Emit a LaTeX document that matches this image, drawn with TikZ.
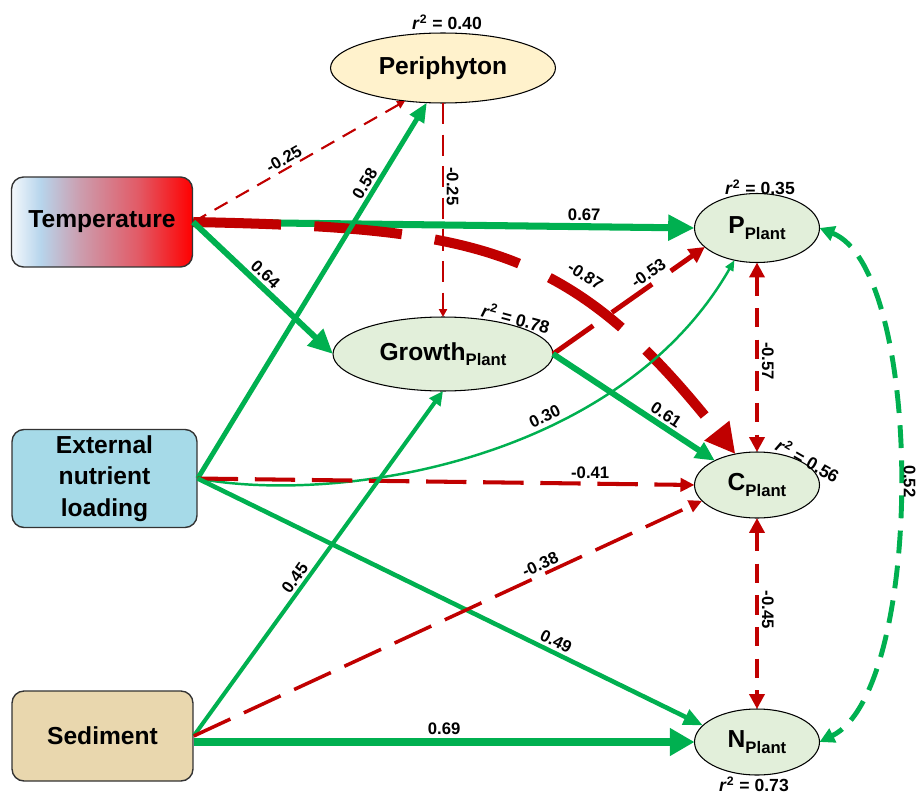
\documentclass[tikz,border=0pt]{standalone}
\usepackage{fontspec}
\setmainfont{Liberation Sans}
\usetikzlibrary{arrows.meta,shapes.geometric}
\definecolor{cgreen}{HTML}{00B050}
\definecolor{cred}{HTML}{C00000}
\definecolor{cperi}{HTML}{FFF2CC}
\definecolor{cplant}{HTML}{E2EFDA}
\definecolor{cnutr}{HTML}{A6DAE8}
\definecolor{csed}{HTML}{E9D7AE}
\definecolor{tcA}{HTML}{F4F8FC}
\definecolor{tcB}{HTML}{B7D5EC}
\definecolor{tcC}{HTML}{CC9DAE}
\definecolor{tcD}{HTML}{E25A66}
\definecolor{tcE}{HTML}{FF0000}
\pgfdeclarehorizontalshading{tempshade}{100bp}{color(0bp)=(tcA); color(25bp)=(tcA); color(33bp)=(tcB); color(44bp)=(tcC); color(60bp)=(tcD); color(75bp)=(tcE); color(100bp)=(tcE)}
\newcommand{\plantsub}{\raisebox{-3pt}{\fontsize{9.5}{11}\selectfont Plant}}
\newcommand{\rsq}[1]{\textit{r}\textsuperscript{2} = #1}

\begin{document}
\begin{tikzpicture}[x=0.02cm, y=-0.02cm,
	box/.style={draw=black!80, line width=0.8pt, rounded corners=0.24cm, minimum width=3.62cm, minimum height=1.8cm, align=center, font=\fontsize{14}{18}\selectfont\bfseries},
	oval/.style={ellipse, draw=black, line width=0.6pt, fill=cplant, inner sep=0pt, outer sep=0pt, font=\fontsize{14}{18}\selectfont\bfseries},
	lbl/.style={font=\fontsize{9.5}{11}\selectfont\bfseries, inner sep=1.5pt},
	rlbl/.style={font=\fontsize{10}{12}\selectfont\bfseries, inner sep=1pt},
	grn/.style n args={3}{draw=cgreen, line width=#1, -{Triangle[length=#2, width=#3]}},
	rd/.style n args={3}{draw=cred, line width=#1, -{Triangle[length=#2, width=#3]}},
	rdd/.style n args={3}{draw=cred, line width=#1, {Triangle[length=#2, width=#3]}-{Triangle[length=#2, width=#3]}},
	grd/.style n args={3}{draw=cgreen, line width=#1, {Triangle[length=#2, width=#3]}-{Triangle[length=#2, width=#3]}},
	]
	\useasboundingbox (0,0) rectangle (919,794);
	% Boxes and ovals:
	\node[box, shading=tempshade](T) at (102,222){Temperature};
	\node[box, fill=cnutr, minimum width=3.7cm, minimum height=1.94cm](E) at (104.5,478.5){External\\nutrient\\loading};
	\node[box, fill=csed](S) at (102.5,736){Sediment};
	\node[oval, fill=cperi, minimum width=4.5cm, minimum height=1.4cm](Peri) at (443,68){Periphyton};
	\node[oval, minimum width=4.4cm, minimum height=1.48cm](G) at (443,354){Growth\plantsub};
	\node[oval, minimum width=2.5cm, minimum height=1.38cm](P) at (757,228){P\plantsub};
	\node[oval, minimum width=2.5cm, minimum height=1.32cm](C) at (757,485){C\plantsub};
	\node[oval, minimum width=2.5cm, minimum height=1.32cm](N) at (757,742){N\plantsub};
	% r^2 values:
	\node[rlbl](rPeri) at (447,22){\rsq{0.40}};
	\node[rlbl](rP) at (760,187){\rsq{0.35}};
	\node[rlbl, rotate=-15](rG) at (516,318){\rsq{0.78}};
	\node[rlbl, rotate=-30](rC) at (808,460){\rsq{0.56}};
	\node[rlbl](rN) at (754,784){\rsq{0.73}};
	% Paths:
	\draw[grn={4pt}{15pt}{14pt}] (T.east) -- (P.west) node[lbl, pos=0.78, above]{0.67};
	\draw[rd={5.7pt}{17pt}{17pt}, dash pattern=on 50pt off 19pt] (T.east) .. controls (480,228) and (570,245) .. (C.125) node[lbl, pos=0.64, sloped, above=5pt]{-0.87};
	\draw[rd={1.2pt}{4.5pt}{4.5pt}, dash pattern=on 8.5pt off 5.5pt] (T.east) -- (Peri.221) node[lbl, pos=0.45, sloped, above]{-0.25};
	\draw[grn={3.4pt}{14pt}{12.5pt}] (T.east) -- (G.west) node[lbl, pos=0.46, sloped, above]{0.64};
	\draw[grn={2.8pt}{11pt}{9pt}] (E.east) -- (Peri.245) node[lbl, pos=0.77, sloped, above]{0.58};
	\draw[rd={1.2pt}{4.5pt}{4.5pt}, dash pattern=on 12pt off 6pt] (Peri.south) -- (G.north) node[lbl, pos=0.39, rotate=-90, anchor=south]{-0.25};
	\draw[grn={1.4pt}{6pt}{5pt}] (E.east) .. controls (340,505) and (620,460) .. (P.235) node[lbl, pos=0.62, sloped, above]{0.30};
	\draw[rd={2.3pt}{8pt}{7.5pt}, dash pattern=on 23pt off 9.5pt] (E.east) -- (C.west) node[lbl, pos=0.79, above]{-0.41};
	\draw[grn={2.6pt}{11pt}{9pt}] (E.east) -- (N.163) node[lbl, pos=0.7, sloped, above]{0.49};
	\draw[grn={2.3pt}{8pt}{7.5pt}] (S.east) -- (G.south) node[lbl, pos=0.44, sloped, above]{0.45};
	\draw[rd={2pt}{7.5pt}{7pt}, dash pattern=on 23pt off 8.5pt] (S.east) -- (C.196) node[lbl, pos=0.69, sloped, above]{-0.38};
	\draw[grn={5.1pt}{14pt}{15pt}] (S.east |- N.west) -- (N.west) node[lbl, pos=0.5, above]{0.69};
	\draw[rd={2.8pt}{9pt}{9pt}, dash pattern=on 28pt off 13pt] (G.east) -- (P.200) node[lbl, pos=0.67, sloped, above]{-0.53};
	\draw[grn={3.4pt}{11pt}{10pt}] (G.east) -- (C.150) node[lbl, pos=0.66, sloped, above]{0.61};
	\draw[rdd={2.6pt}{8.5pt}{8.5pt}, dash pattern=on 11pt off 7pt] (P.south) -- (C.north) node[lbl, pos=0.52, rotate=-90, anchor=south]{-0.57};
	\draw[rdd={2.6pt}{8.5pt}{8.5pt}, dash pattern=on 11pt off 7pt] (C.south) -- (N.north) node[lbl, pos=0.48, rotate=-90, anchor=south]{-0.45};
	\draw[grd={2.8pt}{8.5pt}{8.5pt}, dash pattern=on 13pt off 7pt] (P.east) .. controls (925,270) and (925,690) .. (N.east) node[lbl, pos=0.5, rotate=-90, anchor=south]{0.52};
\end{tikzpicture}
\end{document}
